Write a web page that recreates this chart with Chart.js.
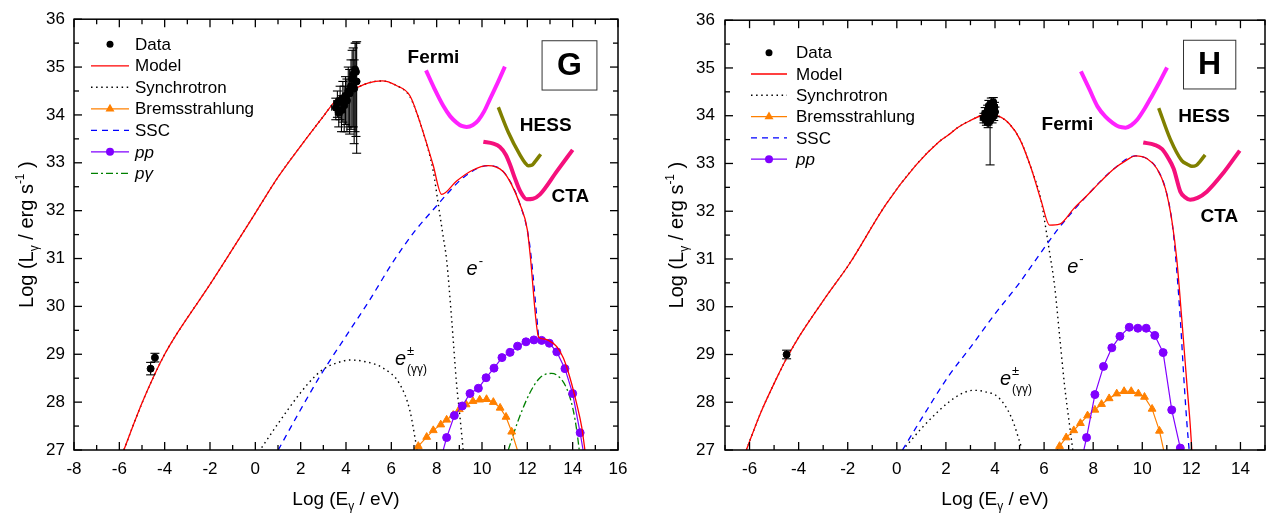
<!DOCTYPE html>
<html><head><meta charset="utf-8">
<script src="https://cdn.jsdelivr.net/npm/chart.js@4"></script>
<style>
html,body{margin:0;padding:0;background:#fff;}
#wrap{position:relative;width:1270px;height:519px;overflow:hidden;}
.pan{position:absolute;top:0;}
</style></head><body>
<div id="wrap">
<div class="pan" style="left:0;width:640px;height:519px"><canvas id="cg" width="640" height="519"></canvas></div>
<div class="pan" style="left:640px;width:630px;height:519px"><canvas id="ch" width="630" height="519"></canvas></div>
</div>
<script>
const FONT='"Liberation Sans", Arial, Helvetica, sans-serif';

// ---------------- common tick labels ----------------
const yTicks=[27,28,29,30,31,32,33,34,35,36];
const G_xTicks=[-8,-6,-4,-2,0,2,4,6,8,10,12,14,16];
const H_xTicks=[-6,-4,-2,0,2,4,6,8,10,12,14];

// ---------------- Panel G ----------------
const G_dataX=[-4.62,-4.43,3.55,3.62,3.68,3.74,3.80,3.86,3.92,3.98,4.04,4.10,4.16,4.22,4.27,4.32,4.36,4.40,4.44,4.47];
const G_dataY=[28.70,28.93,34.15,34.25,34.05,34.30,34.10,34.35,34.20,34.40,34.30,34.50,34.45,34.60,34.75,34.85,34.55,34.95,34.90,34.70];
const G_errLo=[0.13,0.09,0.25,0.30,0.30,0.40,0.45,0.50,0.55,0.60,0.65,0.75,0.85,0.90,1.00,1.10,1.15,1.30,1.35,1.50];
const G_errHi=[0.13,0.09,0.20,0.25,0.25,0.30,0.30,0.35,0.40,0.40,0.45,0.50,0.50,0.55,0.60,0.55,0.60,0.55,0.60,0.83];
const G_xErr=[0,0,0.18,0.16,0.15,0.15,0.14,0.14,0.12,0.12,0.12,0.10,0.10,0.10,0.08,0.08,0.08,0.07,0.07,0.06];

const G_modelX=[-5.8,-5.4,-5.0,-4.5,-4.0,-3.5,-3.0,-2.0,-1.0,0,1,2,3,3.6,4,5,5.6,6.2,6.82,7.26,7.84,8.22,8.88,9.6,10.26,10.93,11.3,11.67,12.0,12.12,12.5,12.7,12.93,13.3,13.59,13.88,14.18,14.4,14.54];
const G_modelY=[27.0,27.5,27.98,28.52,29.0,29.4,29.76,30.46,31.2,31.95,32.7,33.35,33.97,34.33,34.45,34.67,34.71,34.62,34.4,33.85,32.96,32.34,32.62,32.85,32.94,32.82,32.55,32.14,31.6,31.1,29.36,29.32,29.29,29.16,28.92,28.51,27.96,27.48,27.0];
const G_synX=[-5.8,-5.4,-5.0,-4.5,-4.0,-3.5,-3.0,-2.0,-1.0,0,1,2,3,3.6,4,5,5.6,6.2,6.82,7.4,7.85,8.07,8.29,8.44,8.66,8.88,9.03,9.17];
const G_synY=[27.0,27.5,27.98,28.52,29.0,29.4,29.76,30.46,31.2,31.95,32.7,33.35,33.97,34.33,34.45,34.67,34.71,34.62,34.38,33.64,32.82,32.14,31.45,30.97,29.74,28.37,27.68,27.0];
const G_syn2X=[0.28,1,2,2.63,3.07,3.6,4.17,4.8,5.64,6.38,6.82,7.12];
const G_syn2Y=[27.05,27.55,28.2,28.54,28.71,28.82,28.88,28.85,28.71,28.37,27.82,27.05];
const G_sscX=[1.01,1.97,2.85,4,5,6.09,7,8.07,8.44,9.2,10.26,10.93,11.67,12.1,12.5];
const G_sscY=[27.0,27.82,28.54,29.38,30.1,30.94,31.55,32.14,32.34,32.7,32.94,32.82,32.14,31.3,29.35];
const G_bremX=[7.12,7.19,7.56,7.85,8.18,8.44,8.73,9.0,9.3,9.6,9.9,10.2,10.5,10.8,11.06,11.31,11.56];
const G_bremY=[27.0,27.08,27.27,27.41,27.53,27.63,27.73,27.85,27.95,28.02,28.05,28.06,28.0,27.88,27.69,27.38,27.0];
const G_ppX=[8.29,8.44,8.78,9.13,9.47,9.84,10.18,10.53,10.88,11.24,11.57,11.94,12.29,12.63,12.97,13.30,13.66,14.0,14.33,14.46];
const G_ppY=[27.0,27.26,27.72,27.92,28.18,28.29,28.51,28.71,28.93,29.04,29.17,29.26,29.30,29.29,29.23,29.05,28.70,28.18,27.36,27.0];
const G_pgX=[11.16,11.6,12.12,12.56,13.07,13.51,13.81,14.03,14.18,14.29];
const G_pgY=[27.0,27.62,28.2,28.51,28.6,28.47,28.2,27.82,27.41,27.0];
const G_fermiX=[7.53,7.9,8.29,8.6,8.88,9.1,9.32,9.6,9.84,10.1,10.35,10.7,11.01];
const G_fermiY=[34.93,34.55,34.19,33.97,33.84,33.77,33.75,33.79,33.89,34.08,34.33,34.68,35.01];
const G_hessX=[10.72,11.16,11.68,11.9,12.04,12.2,12.35,12.59];
const G_hessY=[34.16,33.64,33.16,33.0,32.94,32.95,33.03,33.18];
const G_ctaX=[10.06,10.5,10.79,11.05,11.24,11.45,11.68,11.97,12.25,12.56,13.3,14.0];
const G_ctaY=[33.44,33.4,33.33,33.17,32.96,32.68,32.41,32.24,32.25,32.34,32.82,33.27];

// ---------------- Panel H ----------------
const H_dataX=[-4.49,3.55,3.60,3.65,3.70,3.72,3.75,3.78,3.80,3.83,3.85,3.88,3.90,3.93,3.95,3.98,4.00];
const H_dataY=[29.0,33.95,34.05,33.90,34.10,33.85,34.20,34.00,33.90,34.15,34.25,33.95,34.10,34.28,34.00,34.18,34.08];
const H_errLo=[0.09,0.10,0.12,0.10,0.12,0.10,0.12,0.10,0.93,0.12,0.10,0.10,0.12,0.10,0.10,0.10,0.10];
const H_errHi=[0.09,0.10,0.12,0.10,0.12,0.10,0.12,0.10,0.10,0.12,0.12,0.10,0.12,0.10,0.10,0.10,0.10];
const H_xErr=[0,0.15,0.12,0.15,0.12,0.15,0.12,0.15,0.10,0.12,0.15,0.12,0.15,0.10,0.12,0.12,0.10];

const H_modelX=[-6.13,-5.57,-4.89,-4.49,-3.95,-2.87,-1.93,-0.45,0.77,1.71,2.11,2.5,3.0,3.6,4.14,4.6,5.01,5.48,5.89,6.22,6.63,7.2,7.77,8.3,8.85,9.3,9.73,10.2,10.6,10.94,11.21,11.41,11.61,11.82,11.95,12.02];
const H_modelY=[27.0,27.75,28.51,28.92,29.4,30.22,30.9,32.14,32.96,33.45,33.6,33.76,33.9,34.02,33.99,33.82,33.51,32.89,32.2,31.71,31.73,32.05,32.34,32.62,32.89,33.05,33.16,33.1,32.89,32.48,31.79,30.97,29.74,28.37,27.55,27.0];
const H_synX=[-6.13,-5.57,-4.89,-4.49,-3.95,-2.87,-1.93,-0.45,0.77,1.71,2.11,2.5,3.0,3.6,4.14,4.6,5.01,5.48,5.89,6.02,6.22,6.43,6.63,6.83,7.03,7.17];
const H_synY=[27.0,27.75,28.51,28.92,29.4,30.22,30.9,32.14,32.96,33.45,33.6,33.76,33.9,34.02,33.99,33.82,33.51,32.89,32.2,31.8,31.15,30.43,29.4,28.37,27.55,27.0];
const H_syn2X=[0.36,1.0,1.71,2.11,2.6,3.12,3.6,4.14,4.67,5.08];
const H_syn2Y=[27.07,27.45,27.82,28.0,28.17,28.25,28.22,28.1,27.68,27.05];
const H_sscX=[0.23,1,2.11,3,4,5,5.55,6.56,7.77,8.85,9.73,10.2,10.6,10.94,11.21,11.35,11.55,11.71,11.82,11.91];
const H_sscY=[27.0,27.65,28.55,29.15,29.85,30.5,30.9,31.62,32.34,32.89,33.16,33.1,32.89,32.48,31.79,31.1,29.74,28.37,27.55,27.0];
const H_bremX=[6.53,6.63,6.90,7.21,7.48,7.77,8.07,8.34,8.65,8.96,9.26,9.55,9.84,10.09,10.40,10.70,10.87];
const H_bremY=[27.0,27.08,27.26,27.41,27.56,27.72,27.84,27.96,28.08,28.18,28.23,28.23,28.18,28.11,27.86,27.40,27.0];
const H_ppX=[7.62,7.73,8.07,8.42,8.76,9.09,9.47,9.82,10.16,10.51,10.85,11.2,11.55];
const H_ppY=[27.0,27.26,28.16,28.75,29.14,29.38,29.57,29.55,29.55,29.40,29.04,27.84,27.04];
const H_fermiX=[7.5,7.85,8.18,8.5,8.79,9.05,9.32,9.55,9.8,10.1,10.4,10.7,11.01];
const H_fermiY=[34.93,34.55,34.19,33.98,33.85,33.77,33.75,33.8,33.92,34.15,34.42,34.7,35.01];
const H_hessX=[10.67,11.14,11.61,11.85,12.02,12.2,12.35,12.56];
const H_hessY=[34.16,33.51,33.06,32.98,32.94,32.96,33.04,33.18];
const H_ctaX=[10.04,10.5,10.81,11.05,11.28,11.55,11.75,11.95,12.25,12.63,13.3,13.97];
const H_ctaY=[33.44,33.39,33.3,33.12,32.89,32.41,32.29,32.24,32.28,32.41,32.8,33.27];

// ---------------- helpers ----------------
function xy(xs,ys){return xs.map((x,i)=>({x:x,y:ys[i]}));}
function radii(n,r,skip){return Array.from({length:n},(_,i)=>skip.indexOf(i)>=0?0:r);}
function curve(label,xs,ys,color,width,dash){
  return {label:label,data:xy(xs,ys),borderColor:color,backgroundColor:color,borderWidth:width,
    borderDash:dash||[],pointRadius:0,showLine:true,fill:false,cubicInterpolationMode:'monotone'};
}
function marked(label,xs,ys,color,style,r,skip){
  return {label:label,data:xy(xs,ys),borderColor:color,backgroundColor:color,borderWidth:1.2,
    pointStyle:style,pointRadius:radii(xs.length,r,skip),pointBackgroundColor:color,pointBorderColor:color,
    pointBorderWidth:1,showLine:true,fill:false,tension:0};
}
function dataDS(xs,ys,lo,hi,xe){
  return {label:'Data',data:xy(xs,ys),showLine:false,pointRadius:3.5,pointStyle:'circle',
    pointBackgroundColor:'#000',pointBorderColor:'#000',backgroundColor:'#000',borderColor:'#000',
    errLo:lo,errHi:hi,xErr:xe};
}
const C={model:'#ff0000',syn:'#000000',brem:'#ff8000',ssc:'#0000ff',pp:'#8000ff',pg:'#008000',
  fermi:'#ff22ff',hess:'#808000',cta:'#f5107c'};
const DOT=[1.5,3.6], DASH=[6,5], DASHDOT=[7,3,2,3];

function richWidth(ctx,segs){let w=0;segs.forEach(s=>{ctx.font=(s.st||'')+' '+s.s+'px '+FONT;w+=ctx.measureText(s.t).width;});return w;}
function drawRich(ctx,segs,x,y,align){
  let cx = align==='center'? x-richWidth(ctx,segs)/2 : x;
  segs.forEach(s=>{ctx.font=(s.st||'')+' '+s.s+'px '+FONT;ctx.fillText(s.t,cx,y+(s.dy||0));cx+=ctx.measureText(s.t).width;});
}
function drawE(ctx,px,py,sup,sub){
  ctx.font='italic 20px '+FONT; ctx.textAlign='left'; ctx.textBaseline='alphabetic';
  ctx.fillText('e',px,py); const w=ctx.measureText('e').width;
  ctx.font='13px '+FONT; ctx.fillText(sup,px+w+1,py-10);
  if(sub){ctx.font='12px '+FONT; ctx.fillText(sub,px+w+1,py+8);}
}
function seg(ctx,x1,y1,x2,y2){ctx.beginPath();ctx.moveTo(x1,y1);ctx.lineTo(x2,y2);ctx.stroke();}
function marker(ctx,style,x,y,r,color){
  ctx.fillStyle=color;ctx.strokeStyle=color;ctx.setLineDash([]);ctx.beginPath();
  if(style==='triangle'){ctx.moveTo(x,y-r*1.15);ctx.lineTo(x+r,y+r*0.6);ctx.lineTo(x-r,y+r*0.6);ctx.closePath();}
  else ctx.arc(x,y,r,0,Math.PI*2);
  ctx.fill();
}

function makeDecor(spec){
  return {id:'decor'+spec.name, afterDatasetsDraw(chart){
    const ctx=chart.ctx, ca=chart.chartArea, xs=chart.scales.x, ys=chart.scales.y;
    const X=v=>xs.getPixelForValue(v), Y=v=>ys.getPixelForValue(v);
    ctx.save();
    // error bars
    chart.data.datasets.forEach(ds=>{
      if(!ds.errLo) return;
      ctx.strokeStyle='#000';ctx.lineWidth=1.1;ctx.setLineDash([]);
      ds.data.forEach((p,i)=>{
        const px=X(p.x), y1=Y(p.y-ds.errLo[i]), y2=Y(p.y+ds.errHi[i]);
        seg(ctx,px,y1,px,y2); seg(ctx,px-4.5,y1,px+4.5,y1); seg(ctx,px-4.5,y2,px+4.5,y2);
        if(ds.xErr[i]>0){const x1=X(p.x-ds.xErr[i]),x2=X(p.x+ds.xErr[i]),py=Y(p.y);
          seg(ctx,x1,py,x2,py); seg(ctx,x1,py-3,x1,py+3); seg(ctx,x2,py-3,x2,py+3);}
      });
    });
    // frame & ticks
    ctx.strokeStyle='#000';ctx.lineWidth=1.5;ctx.setLineDash([]);
    ctx.strokeRect(ca.left,ca.top,ca.right-ca.left,ca.bottom-ca.top);
    ctx.lineWidth=1.3;
    for(let v=Math.ceil(xs.min);v<=xs.max;v++){const p=X(v),L=(v%2===0)?8:5;
      seg(ctx,p,ca.bottom,p,ca.bottom-L);seg(ctx,p,ca.top,p,ca.top+L);}
    for(let v=ys.min;v<=ys.max+1e-9;v+=0.5){const p=Y(v),L=(Math.abs(v-Math.round(v))<1e-6)?8:5;
      seg(ctx,ca.left,p,ca.left+L,p);seg(ctx,ca.right,p,ca.right-L,p);}
    // legend
    const Lg=spec.legend;
    Lg.rows.forEach((row,i)=>{
      const y=Lg.y0+i*Lg.dy, ds=chart.data.datasets.find(d=>d.label===row.label), cx=(Lg.x0+Lg.x1)/2;
      if(row.line){ctx.save();ctx.strokeStyle=ds.borderColor;ctx.lineWidth=ds.borderWidth;ctx.setLineDash(ds.borderDash||[]);
        seg(ctx,Lg.x0,y,Lg.x1,y);ctx.restore();}
      if(row.mk) marker(ctx,row.mk,cx,y,row.mk==='triangle'?4.5:(row.mr||4),ds.borderColor);
      ctx.fillStyle='#000';ctx.textAlign='left';ctx.textBaseline='middle';
      ctx.font=(row.it?'italic ':'')+'17px '+FONT;ctx.fillText(row.text,Lg.tx,y+1);
    });
    // bold instrument labels
    ctx.fillStyle='#000';ctx.textAlign='center';ctx.textBaseline='middle';ctx.font='bold 19px '+FONT;
    spec.labels.forEach(l=>ctx.fillText(l.t,X(l.x),Y(l.y)));
    // panel letter box
    const b=spec.box;ctx.lineWidth=1;ctx.strokeStyle='#333';
    ctx.strokeRect(X(b.x0),Y(b.y1),X(b.x1)-X(b.x0),Y(b.y0)-Y(b.y1));
    ctx.font='bold 32px '+FONT;ctx.fillStyle='#000';ctx.fillText(b.t,(X(b.x0)+X(b.x1))/2,(Y(b.y0)+Y(b.y1))/2+1);
    // e labels
    ctx.fillStyle='#000';
    drawE(ctx,X(spec.em.x),Y(spec.em.y),'-',null);
    drawE(ctx,X(spec.ep.x),Y(spec.ep.y),'\u00B1','(\u03B3\u03B3)');
    // axis titles
    ctx.textAlign='left';ctx.textBaseline='alphabetic';
    drawRich(ctx,[{t:'Log (E',s:19},{t:'\u03B3',s:12,dy:5},{t:' / eV)',s:19}],(ca.left+ca.right)/2,505,'center');
    ctx.save();ctx.translate(spec.ytx,(ca.top+ca.bottom)/2);ctx.rotate(-Math.PI/2);
    drawRich(ctx,[{t:'Log (L',s:20},{t:'\u03B3',s:12,dy:5},{t:' / erg s',s:20},{t:'-1',s:12,dy:-9},{t:' )',s:20}],0,0,'center');
    ctx.restore();
    ctx.restore();
  }};
}

function makePanel(id,P){
  new Chart(document.getElementById(id),{
    type:'scatter',
    data:{datasets:P.datasets},
    options:{
      responsive:false,animation:false,devicePixelRatio:1,
      layout:{padding:{left:0,right:P.padR,top:12,bottom:0}},
      plugins:{legend:{display:false},tooltip:{enabled:false}},
      scales:{
        x:{type:'linear',min:P.xmin,max:P.xmax,
          grid:{display:false,drawTicks:false},border:{display:false},
          ticks:{color:'#000',font:{family:FONT,size:17},padding:9,maxRotation:0,autoSkip:false},
          afterBuildTicks(s){s.ticks=P.xTicks.map(v=>({value:v}));},
          afterFit(s){s.height=69;}},
        y:{type:'linear',min:27,max:36,
          grid:{display:false,drawTicks:false},border:{display:false},
          ticks:{color:'#000',font:{family:FONT,size:17},padding:P.yPad,autoSkip:false},
          afterBuildTicks(s){s.ticks=yTicks.map(v=>({value:v}));},
          afterFit(s){s.width=P.yW;}}
      }
    },
    plugins:[makeDecor(P.spec)]
  });
}

const legendRowsG=[{label:'Data',text:'Data',mk:'circle',mr:3.5},{label:'Model',text:'Model',line:1},
  {label:'Synchrotron',text:'Synchrotron',line:1},{label:'Bremsstrahlung',text:'Bremsstrahlung',line:1,mk:'triangle'},
  {label:'SSC',text:'SSC',line:1},{label:'pp',text:'pp',line:1,mk:'circle',it:1},{label:'p\u03B3',text:'p\u03B3',line:1,it:1}];

makePanel('cg',{xmin:-8,xmax:16,xTicks:G_xTicks,padR:22,yW:74,yPad:9,
  datasets:[
    dataDS(G_dataX,G_dataY,G_errLo,G_errHi,G_xErr),
    curve('Model',G_modelX,G_modelY,C.model,1.3),
    marked('pp',G_ppX,G_ppY,C.pp,'circle',4,[0,G_ppX.length-1]),
    marked('Bremsstrahlung',G_bremX,G_bremY,C.brem,'triangle',4.5,[0,G_bremX.length-1]),
    curve('p\u03B3',G_pgX,G_pgY,C.pg,1.3,DASHDOT),
    curve('SSC',G_sscX,G_sscY,C.ssc,1.3,DASH),
    curve('Synchrotron',G_synX,G_synY,C.syn,1.4,DOT),
    curve('Synchrotron (secondary)',G_syn2X,G_syn2Y,C.syn,1.4,DOT),
    curve('CTA',G_ctaX,G_ctaY,C.cta,4),
    curve('HESS',G_hessX,G_hessY,C.hess,3.5),
    curve('Fermi',G_fermiX,G_fermiY,C.fermi,4)
  ],
  spec:{name:'G',ytx:33,
    legend:{x0:91,x1:129,tx:135,y0:44.3,dy:21.5,rows:legendRowsG},
    labels:[{t:'Fermi',x:7.86,y:35.2},{t:'HESS',x:12.81,y:33.77},{t:'CTA',x:13.9,y:32.29}],
    box:{x0:12.65,x1:15.07,y0:34.52,y1:35.55,t:'G'},
    em:{x:9.32,y:30.66},ep:{x:6.16,y:28.77}}
});

makePanel('ch',{xmin:-7,xmax:15,xTicks:H_xTicks,padR:2,yW:85,yPad:10,
  datasets:[
    dataDS(H_dataX,H_dataY,H_errLo,H_errHi,H_xErr),
    curve('Model',H_modelX,H_modelY,C.model,1.3),
    marked('pp',H_ppX,H_ppY,C.pp,'circle',4,[0]),
    marked('Bremsstrahlung',H_bremX,H_bremY,C.brem,'triangle',4.5,[0,H_bremX.length-1]),
    curve('SSC',H_sscX,H_sscY,C.ssc,1.3,DASH),
    curve('Synchrotron',H_synX,H_synY,C.syn,1.4,DOT),
    curve('Synchrotron (secondary)',H_syn2X,H_syn2Y,C.syn,1.4,DOT),
    curve('CTA',H_ctaX,H_ctaY,C.cta,4),
    curve('HESS',H_hessX,H_hessY,C.hess,3.5),
    curve('Fermi',H_fermiX,H_fermiY,C.fermi,4)
  ],
  spec:{name:'H',ytx:43,
    legend:{x0:111,x1:147,tx:156,y0:52.7,dy:21.3,rows:legendRowsG.slice(0,6)},
    labels:[{t:'Fermi',x:6.95,y:33.82},{t:'HESS',x:12.52,y:33.97},{t:'CTA',x:13.14,y:31.88}],
    box:{x0:11.68,x1:13.81,y0:34.56,y1:35.58,t:'H'},
    em:{x:6.94,y:30.70},ep:{x:4.2,y:28.36}}
});
</script>
</body></html>
